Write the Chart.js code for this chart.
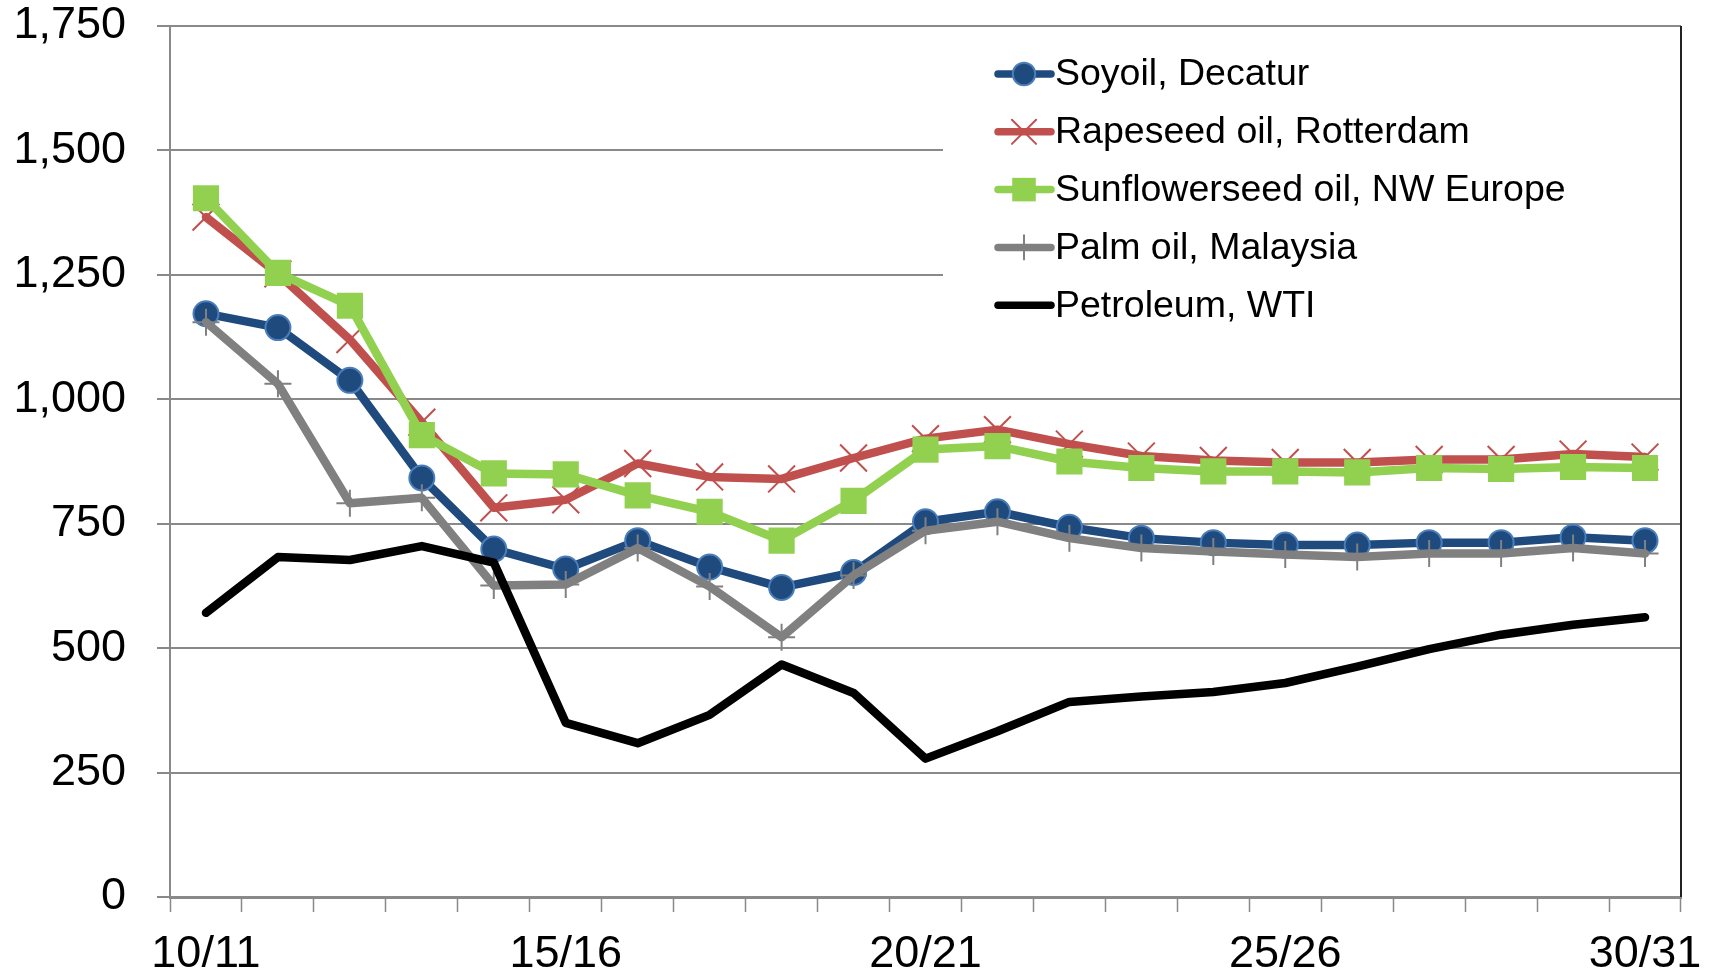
<!DOCTYPE html>
<html>
<head>
<meta charset="utf-8">
<script src="https://cdn.jsdelivr.net/npm/chart.js@4.4.1/dist/chart.umd.min.js"></script>
<style>
    html, body { margin: 0; padding: 0; background: #fff; }
</style>
</head>
<body>
<canvas id="oilChart" width="1719" height="978"></canvas>
<script>
// marketing years
const years = ['10/11', '11/12', '12/13', '13/14', '14/15', '15/16', '16/17', '17/18', '18/19', '19/20',
    '20/21', '21/22', '22/23', '23/24', '24/25', '25/26', '26/27', '27/28', '28/29', '29/30', '30/31'];
const shownYears = ['10/11', '15/16', '20/21', '25/26', '30/31'];

const soyoil = [1172, 1144, 1038, 842, 699, 659, 716, 663, 622, 652, 754, 774, 743, 721, 712, 707, 707, 712, 712, 723, 716];
const rapeseed = [1366, 1252, 1120, 954, 782, 798, 871, 844, 840, 882, 921, 939, 910, 886, 877, 873, 873, 879, 879, 890, 884];
const sunflower = [1404, 1254, 1188, 928, 851, 849, 807, 774, 716, 796, 899, 906, 875, 862, 855, 855, 853, 862, 860, 864, 862];
const palm = [1155, 1031, 791, 802, 626, 628, 701, 624, 522, 646, 736, 754, 721, 701, 694, 688, 683, 690, 690, 701, 690];
const petroleum = [571, 683, 677, 705, 672, 350, 309, 366, 467, 410, 278, 333, 392, 403, 412, 430, 463, 498, 527, 547, 562];

const FONT = '"Liberation Sans", Arial, sans-serif';
const GRID = '#898989';

// legend drawn inside the plot, top right, on a white box
const boxLegend = {
    id: 'boxLegend',
    afterDraw(chart) {
        const ctx = chart.ctx;
        const area = chart.chartArea;
        ctx.save();
        ctx.fillStyle = '#fff';
        ctx.fillRect(943, area.top + 2, area.right - 943 - 1, 320);
        chart.data.datasets.forEach((ds, i) => {
            const y = 74 + i * 57.8;
            ctx.strokeStyle = ds.borderColor;
            ctx.lineWidth = 7.5;
            ctx.lineCap = 'round';
            ctx.beginPath();
            ctx.moveTo(998, y);
            ctx.lineTo(1051, y);
            ctx.stroke();
            if (ds.pointRadius > 0) {
                ctx.fillStyle = ds.pointBackgroundColor;
                ctx.strokeStyle = ds.pointBorderColor;
                ctx.lineWidth = ds.pointBorderWidth;
                Chart.helpers.drawPoint(ctx, {
                    pointStyle: ds.pointStyle,
                    radius: ds.pointRadius * 0.9,
                    rotation: 0,
                    borderWidth: ds.pointBorderWidth
                }, 1024, y);
            }
            ctx.fillStyle = '#000';
            ctx.font = '37.5px ' + FONT;
            ctx.textBaseline = 'middle';
            ctx.textAlign = 'left';
            ctx.fillText(ds.label, 1055, y + 1);
        });
        ctx.restore();
    },
    beforeDatasetsDraw(chart) {
        // dark right-hand border of the plot
        const ctx = chart.ctx;
        const area = chart.chartArea;
        ctx.save();
        ctx.strokeStyle = '#222';
        ctx.lineWidth = 2;
        ctx.beginPath();
        ctx.moveTo(area.right, area.top);
        ctx.lineTo(area.right, area.bottom);
        ctx.stroke();
        ctx.restore();
    }
};

function series(label, data, color, style, radius, extra) {
    return Object.assign({
        label: label,
        data: data,
        borderColor: color,
        backgroundColor: color,
        borderWidth: 8.5,
        pointStyle: style,
        pointRadius: radius,
        pointHoverRadius: radius,
        pointBackgroundColor: color,
        pointBorderColor: color,
        pointBorderWidth: 2,
        borderJoinStyle: 'round',
        borderCapStyle: 'round',
        tension: 0
    }, extra);
}

const ctx = document.getElementById('oilChart');
new Chart(ctx, {
    type: 'line',
    data: {
        labels: years,
        datasets: [
            series('Soyoil, Decatur', soyoil, '#1F4A7E', 'circle', 12.5, { pointBorderColor: '#4A7EBB', order: 5 }),
            series('Rapeseed oil, Rotterdam', rapeseed, '#C0504D', 'crossRot', 19, { order: 4 }),
            series('Sunflowerseed oil, NW Europe', sunflower, '#92D050', 'rect', 18.5, { pointBorderWidth: 0, order: 3 }),
            series('Palm oil, Malaysia', palm, '#808080', 'cross', 13.5, { order: 2 }),
            series('Petroleum, WTI', petroleum, '#000000', 'circle', 0, { order: 1 })
        ]
    },
    options: {
        responsive: false,
        animation: false,
        devicePixelRatio: 1,
        layout: { padding: { top: 0, right: 38, left: 0, bottom: 0 } },
        plugins: {
            legend: { display: false },
            tooltip: { enabled: false }
        },
        scales: {
            x: {
                offset: true,
                grid: {
                    offset: true,
                    drawOnChartArea: false,
                    drawTicks: true,
                    tickLength: 15,
                    tickColor: GRID,
                    tickWidth: 1.5
                },
                border: { color: GRID, width: 3 },
                ticks: {
                    autoSkip: false,
                    maxRotation: 0,
                    padding: 16,
                    color: '#000',
                    font: { family: FONT, size: 45 },
                    callback: function (value) {
                        const lbl = this.getLabelForValue(value);
                        return shownYears.includes(lbl) ? lbl : '';
                    }
                },
                afterFit: s => { s.height = 81; }
            },
            y: {
                min: 0,
                max: 1750,
                grid: {
                    color: GRID,
                    lineWidth: 2,
                    tickLength: 13
                },
                border: { color: GRID, width: 2 },
                ticks: {
                    stepSize: 250,
                    padding: 31,
                    color: '#000',
                    font: { family: FONT, size: 45, lineHeight: 1.15 },
                    callback: v => v.toLocaleString('en-US')
                },
                afterFit: s => {
                    s.width = 170;
                    s.paddingTop = 26;
                    s.paddingBottom = 0;
                }
            }
        }
    },
    plugins: [boxLegend]
});
</script>
</body>
</html>
